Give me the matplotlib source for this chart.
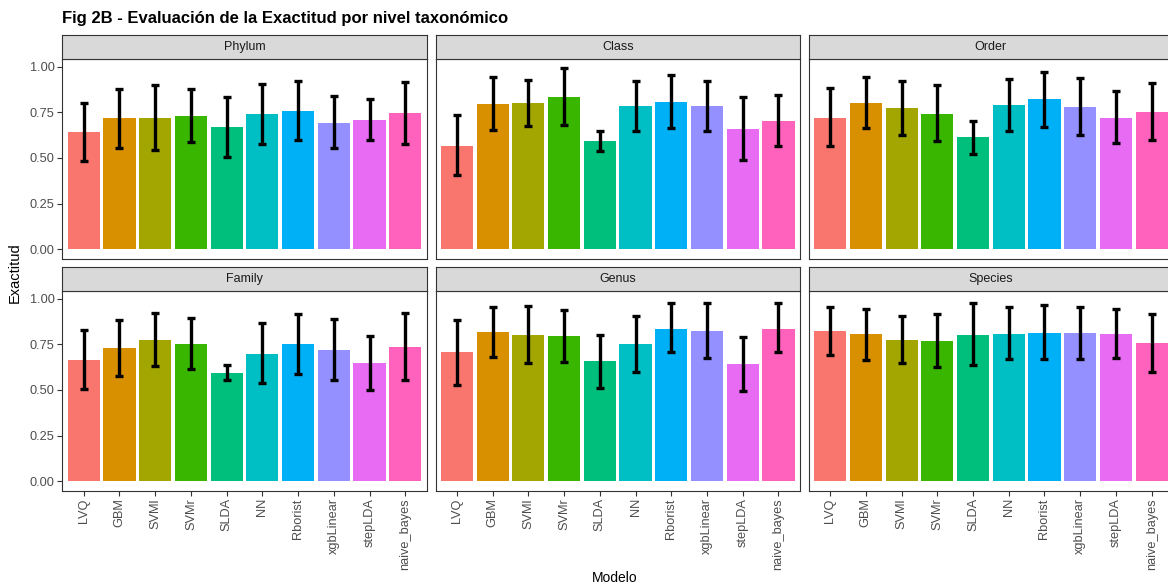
import matplotlib
matplotlib.use('Agg')
import matplotlib.pyplot as plt
import numpy as np

plt.rcParams['font.family'] = ['Liberation Sans', 'DejaVu Sans']

models = ['LVQ', 'GBM', 'SVMl', 'SVMr', 'SLDA', 'NN', 'Rborist',
          'xgbLinear', 'stepLDA', 'naive_bayes']
colors = ['#F8766D', '#D89000', '#A3A500', '#39B600', '#00BF7D',
          '#00BFC4', '#00B0F6', '#9590FF', '#E76BF3', '#FF62BC']
levels = ['Phylum', 'Class', 'Order', 'Family', 'Genus', 'Species']

# mean accuracy, lower and upper error bar per taxonomic level
phylum_mean = [0.641, 0.718, 0.721, 0.730, 0.670, 0.741, 0.759, 0.692, 0.708, 0.745]
phylum_low = [0.485, 0.557, 0.545, 0.590, 0.508, 0.578, 0.596, 0.557, 0.599, 0.576]
phylum_high = [0.800, 0.877, 0.899, 0.876, 0.832, 0.905, 0.923, 0.839, 0.821, 0.916]

class_mean = [0.568, 0.797, 0.801, 0.836, 0.594, 0.783, 0.808, 0.783, 0.659, 0.703]
class_low = [0.407, 0.654, 0.676, 0.678, 0.538, 0.649, 0.665, 0.645, 0.490, 0.563]
class_high = [0.734, 0.945, 0.926, 0.992, 0.650, 0.919, 0.954, 0.919, 0.832, 0.845]

order_mean = [0.721, 0.803, 0.774, 0.741, 0.612, 0.788, 0.823, 0.779, 0.721, 0.754]
order_low = [0.563, 0.665, 0.627, 0.592, 0.521, 0.649, 0.668, 0.627, 0.581, 0.599]
order_high = [0.883, 0.943, 0.919, 0.897, 0.703, 0.930, 0.972, 0.935, 0.866, 0.912]

family_mean = [0.665, 0.727, 0.773, 0.752, 0.594, 0.696, 0.749, 0.720, 0.645, 0.734]
family_low = [0.504, 0.575, 0.631, 0.613, 0.555, 0.536, 0.589, 0.556, 0.498, 0.556]
family_high = [0.827, 0.880, 0.920, 0.896, 0.638, 0.865, 0.916, 0.887, 0.796, 0.921]

genus_mean = [0.707, 0.816, 0.803, 0.793, 0.656, 0.749, 0.836, 0.825, 0.640, 0.834]
genus_low = [0.529, 0.680, 0.647, 0.654, 0.513, 0.600, 0.706, 0.674, 0.496, 0.706]
genus_high = [0.885, 0.953, 0.960, 0.935, 0.798, 0.902, 0.973, 0.978, 0.787, 0.973]

species_mean = [0.822, 0.804, 0.771, 0.769, 0.802, 0.807, 0.812, 0.812, 0.807, 0.756]
species_low = [0.691, 0.665, 0.647, 0.625, 0.635, 0.669, 0.669, 0.671, 0.676, 0.600]
species_high = [0.951, 0.943, 0.902, 0.913, 0.973, 0.951, 0.963, 0.954, 0.943, 0.918]

means = [phylum_mean, class_mean, order_mean, family_mean, genus_mean, species_mean]
lows = [phylum_low, class_low, order_low, family_low, genus_low, species_low]
highs = [phylum_high, class_high, order_high, family_high, genus_high, species_high]

W, H = 1168, 587
fig = plt.figure(figsize=(W / 100, H / 100), dpi=100)

def px_axes(x0, y0, w, h):
    return fig.add_axes([x0 / W, 1 - (y0 + h) / H, w / W, h / H])

panel_w = 364.4
lefts = [62.3, 435.5, 808.7]
tops = [59, 291]
panel_h = 199.5
strip_h = 24.5

x = np.arange(1, len(models) + 1)
for i, level in enumerate(levels):
    row, col = divmod(i, 3)
    x0, y0 = lefts[col], tops[row]
    ax = px_axes(x0, y0, panel_w, panel_h)
    m = np.array(means[i])
    lo = np.array(lows[i])
    hi = np.array(highs[i])
    ax.bar(x, m, width=0.9, color=colors, zorder=2)
    ax.errorbar(x, m, yerr=[m - lo, hi - m], fmt='none', ecolor='black',
                elinewidth=2.4, capsize=3.2, capthick=2.4, zorder=3)
    ax.set_xlim(0.4, 10.6)
    ax.set_ylim(-0.0496, 1.041)
    for s in ax.spines.values():
        s.set_color('#333333')
        s.set_linewidth(0.8)
    ax.tick_params(colors='#333333', labelcolor='#4D4D4D', length=3.5,
                   width=0.8, labelsize=9.2, pad=2)
    ax.set_yticks([0, 0.25, 0.5, 0.75, 1.0])
    if col == 0:
        ax.set_yticklabels(['0.00', '0.25', '0.50', '0.75', '1.00'])
    else:
        ax.tick_params(axis='y', length=0, labelleft=False)
    ax.set_xticks(x)
    if row == 1:
        ax.set_xticklabels(models, rotation=90)
    else:
        ax.tick_params(axis='x', length=0, labelbottom=False)

    sax = px_axes(x0, y0 - strip_h, panel_w, strip_h)
    sax.set_facecolor('#D9D9D9')
    sax.set_xticks([])
    sax.set_yticks([])
    for s in sax.spines.values():
        s.set_color('#333333')
        s.set_linewidth(0.8)
    sax.text(0.5, 0.5, level, ha='center', va='center', fontsize=9,
             color='#1A1A1A', transform=sax.transAxes)

fig.text(62 / W, 1 - 18 / H, 'Fig 2B - Evaluación de la Exactitud por nivel taxonómico',
         fontsize=12, fontweight='bold', ha='left', va='center')
fig.text(615 / W, 1 - 578 / H, 'Modelo', fontsize=10, ha='center', va='center')
fig.text(15 / W, 1 - 273 / H, 'Exactitud', fontsize=10.5, ha='center', va='center',
         rotation=90)

fig.savefig('out.png', dpi=100, facecolor='white')
